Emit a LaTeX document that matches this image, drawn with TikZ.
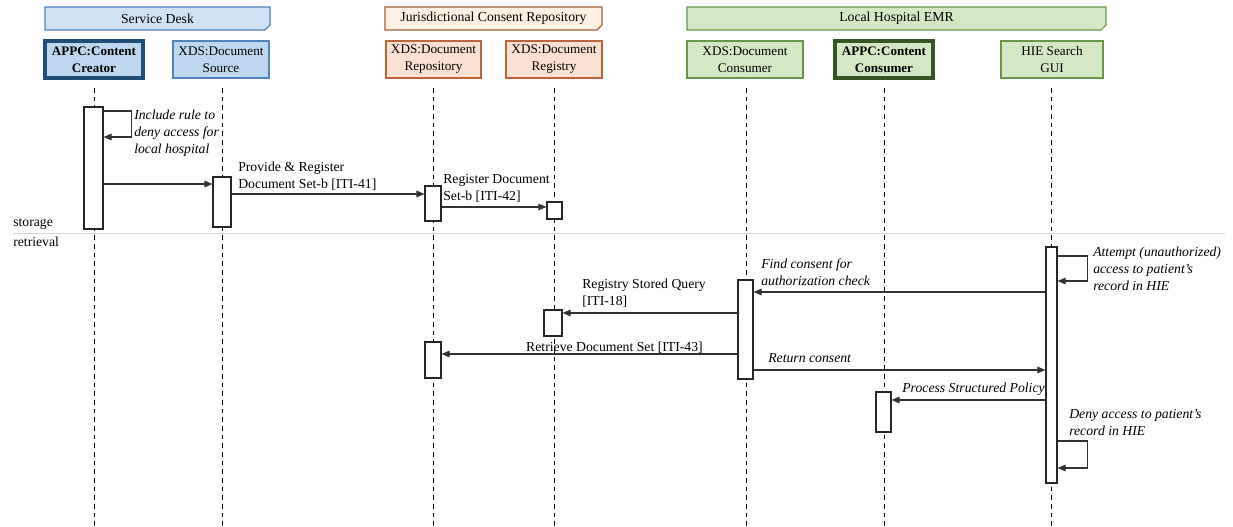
\documentclass[tikz,border=0pt]{standalone}
\usepackage{fontspec}
\setmainfont{Liberation Serif}
\usetikzlibrary{arrows.meta,fit}
\definecolor{sdf}{RGB}{207,226,244}
\definecolor{sdb}{RGB}{80,130,190}
\definecolor{sdp}{RGB}{189,215,238}
\definecolor{sdd}{RGB}{31,78,121}
\definecolor{jcf}{RGB}{253,241,227}
\definecolor{jcb}{RGB}{165,95,55}
\definecolor{jcp}{RGB}{251,225,210}
\definecolor{jcd}{RGB}{190,100,60}
\definecolor{emf}{RGB}{213,232,196}
\definecolor{emb}{RGB}{105,150,75}
\definecolor{emp}{RGB}{213,232,196}
\definecolor{emd}{RGB}{55,86,35}
\definecolor{msgc}{RGB}{50,50,50}
\definecolor{sepc}{RGB}{215,215,215}
\begin{document}
\begin{tikzpicture}[x=0.75pt,y=-0.75pt,
  every node/.style={font=\fontsize{10.3}{12.75}\selectfont},
  part/.style={draw, line width=0.9pt, inner sep=0pt, align=center, minimum height=27.75pt, font=\fontsize{9.9}{12.75}\selectfont},
  bpart/.style={part, line width=2.4pt, font=\fontsize{9.8}{12.75}\selectfont\bfseries},
  act/.style={draw=black!85, fill=white, line width=0.9pt, inner sep=0pt},
  life/.style={draw=black, dash pattern=on 3.5pt off 3pt, line width=0.7pt},
  msg/.style={draw=msgc, line width=0.8pt, -{Triangle[length=6pt,width=5pt]}},
  lbl/.style={inner sep=0pt, anchor=west, align=left},
  ilbl/.style={lbl, font=\fontsize{10.3}{12.75}\selectfont\itshape},
  hdr/.style={line width=0.8pt}]
\useasboundingbox (0,0) rectangle (1233,527);
% headers
\draw[hdr, draw=sdb, fill=sdf] (45,7) -- (270,7) -- (270,25) -- (265,30) -- (45,30) -- cycle;
\node (sdh) at (157.5,18.5) {Service Desk};
\draw[hdr, draw=jcb, fill=jcf] (385,7) -- (602,7) -- (602,25) -- (597,30) -- (385,30) -- cycle;
\node (jch) at (493.5,18.5) {Jurisdictional Consent Repository};
\draw[hdr, draw=emb, fill=emf] (687,7) -- (1106,7) -- (1106,25) -- (1101,30) -- (687,30) -- cycle;
\node (emh) at (896.5,18.5) {Local Hospital EMR};
% participants
\node[bpart, draw=sdd, fill=sdp, minimum width=73.5pt] (cre) at (94,59.5) {APPC:Content\\Creator};
\node[part, draw=sdb, fill=sdp, minimum width=72pt] (src) at (221,59.5) {XDS:Document\\Source};
\node[part, draw=jcd, fill=jcp, minimum width=71.25pt] (rep) at (433.5,59.5) {XDS:Document\\Repository};
\node[part, draw=jcd, fill=jcp, minimum width=72pt] (reg) at (554,59.5) {XDS:Document\\Registry};
\node[part, draw=emb, fill=emp, minimum width=87pt] (con) at (745,59.5) {XDS:Document\\Consumer};
\node[bpart, draw=emd, fill=emp, minimum width=73.5pt] (cc) at (884,59.5) {APPC:Content\\Consumer};
\node[part, draw=emb, fill=emp, minimum width=76.5pt] (gui) at (1052,59.5) {HIE Search\\GUI};
% separator
\coordinate (sepL) at (13,233);
\coordinate (sepR) at (1225,233);
\draw[sepc, line width=0.7pt] (sepL) -- (sepR);
\node[lbl] (stor) at (13,224) {storage};
\node[lbl] (retr) at (13,242) {retrieval};
% lifelines
\draw[life] (94,88) -- (94,527);
\draw[life] (222,88) -- (222,527);
\draw[life] (433,88) -- (433,527);
\draw[life] (554,88) -- (554,527);
\draw[life] (746,88) -- (746,527);
\draw[life] (884,88) -- (884,527);
\draw[life] (1051.5,88) -- (1051.5,527);
% activations
\node[act, fit={(84,107) (103,229)}] (creA) {};
\node[act, fit={(213,177) (231,227)}] (srcA) {};
\node[act, fit={(425,186) (441,221)}] (repA) {};
\node[act, fit={(547,202) (562,219)}] (regA) {};
\node[act, fit={(1046,247) (1057,483)}] (guiA) {};
\node[act, fit={(738,280) (753,379)}] (conA) {};
\node[act, fit={(544,310) (562,336)}] (regB) {};
\node[act, fit={(425,342) (441,378)}] (repB) {};
\node[act, fit={(876,392) (891,432)}] (ccA) {};
% messages
\draw[msg] (creA.east |- 0,111) -- ++(28,0) |- (creA.east |- 0,137);
\node[ilbl] (m1) at (134,133) {Include rule to\\deny access for\\local hospital};
\draw[msg] (creA.east |- 0,184) -- (srcA.west |- 0,184);
\draw[msg] (srcA.east |- 0,194) -- (repA.west |- 0,194);
\node[lbl] (m2) at (238,176.5) {Provide \& Register\\Document Set-b [ITI-41]};
\draw[msg] (repA.east |- 0,207) -- (regA.west |- 0,207);
\node[lbl] (m3) at (443,188.5) {Register Document\\Set-b [ITI-42]};
\draw[msg] (guiA.east |- 0,256) -- ++(30,0) |- (guiA.east |- 0,281);
\node[ilbl] (m4) at (1093,269) {Attempt (unauthorized)\\access to patient’s\\record in HIE};
\draw[msg] (guiA.west |- 0,292) -- (conA.east |- 0,292);
\node[ilbl] (m5) at (761,272.5) {Find consent for\\authorization check};
\draw[msg] (conA.west |- 0,313) -- (regB.east |- 0,313);
\node[lbl] (m6) at (582,293) {Registry Stored Query\\{[ITI-18]}};
\draw[msg] (conA.west |- 0,354) -- (repB.east |- 0,354);
\node[inner sep=0pt] (m7) at (614.5,347.5) {Retrieve Document Set [ITI-43]};
\draw[msg] (conA.east |- 0,370) -- (guiA.west |- 0,370);
\node[ilbl] (m8) at (768,358) {Return consent};
\draw[msg] (guiA.west |- 0,400) -- (ccA.east |- 0,400);
\node[ilbl, anchor=east] (m9) at (1045,389) {Process Structured Policy};
\draw[msg] (guiA.east |- 0,441) -- ++(30,0) |- (guiA.east |- 0,468);
\node[ilbl] (m10) at (1069,422.5) {Deny access to patient’s\\record in HIE};
\end{tikzpicture}
\end{document}
